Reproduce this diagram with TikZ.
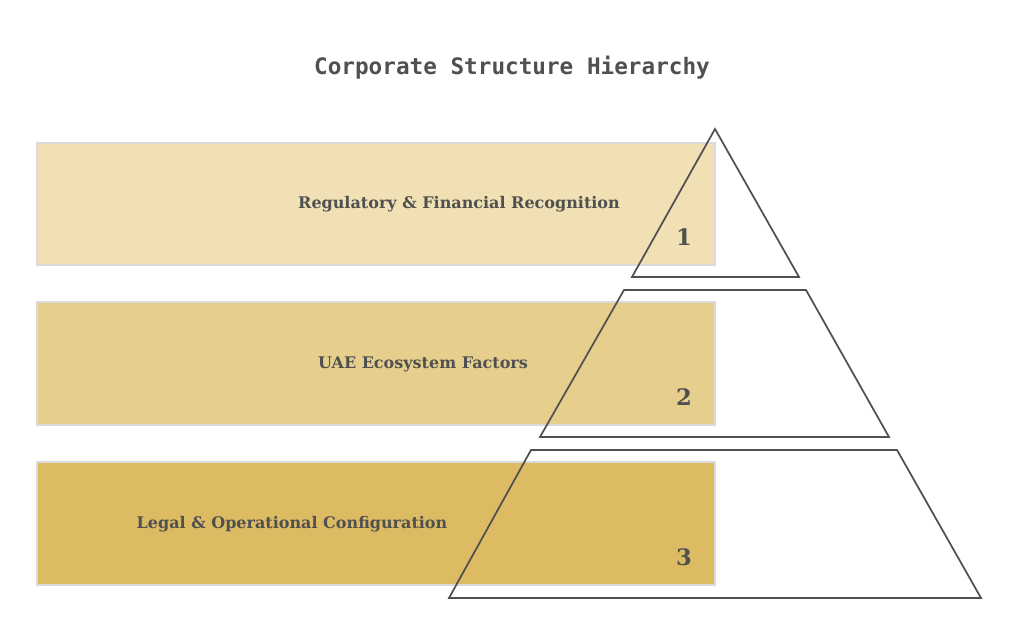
\documentclass[tikz,border=0pt]{standalone}
\usepackage{fontspec}
\newfontfamily\labelfont{DejaVu Serif}
\newfontfamily\titlefont{DejaVu Sans Mono}
\definecolor{tierA}{HTML}{F0E0B4}
\definecolor{tierB}{HTML}{E6CF8C}
\definecolor{tierC}{HTML}{DCBB62}
\definecolor{inkgrey}{HTML}{505050}
\definecolor{rimgrey}{HTML}{DADADA}
\tikzset{
  bar/.style={draw=rimgrey, line width=1pt},
  tier/.style={draw=inkgrey, line width=1.3pt, line join=miter},
  barlabel/.style={text=inkgrey, font=\labelfont\bfseries\fontsize{12}{14}\selectfont, inner sep=0.75pt},
  tiernum/.style={text=inkgrey, font=\labelfont\bfseries\fontsize{17}{20}\selectfont, inner sep=0.75pt}
}
\begin{document}
\begin{tikzpicture}[x=0.75pt,y=0.75pt,yscale=-1,xscale=1]
\useasboundingbox (0,0) rectangle (1024,626);

% Title
\node (title) [text=inkgrey, font=\titlefont\bfseries\fontsize{17}{20}\selectfont] at (512,68) {Corporate Structure Hierarchy};

%Bars
\draw [bar, fill=tierA] (37,143) rectangle (715,265);
\draw [bar, fill=tierB] (37,302) rectangle (715,425);
\draw [bar, fill=tierC] (37,462) rectangle (715,585);

%Pyramid tiers
\draw [tier] (715,129) -- (799,277) -- (632,277) -- cycle ;
\draw [tier] (624,290) -- (806,290) -- (889,437) -- (540,437) -- cycle ;
\draw [tier] (531,450) -- (897,450) -- (981,598) -- (449,598) -- cycle ;

% Text Node
\node (lblA) [barlabel] at (459,204) {Regulatory \& Financial Recognition};
% Text Node
\node (lblB) [barlabel] at (423,364) {UAE Ecosystem Factors};
% Text Node
\node (lblC) [barlabel] at (292,524) {Legal \& Operational Configuration};
% Text Node
\node (numA) [tiernum] at (684,237) {1};
\node (numB) [tiernum] at (684,397) {2};
\node (numC) [tiernum] at (684,557) {3};

\end{tikzpicture}
\end{document}
